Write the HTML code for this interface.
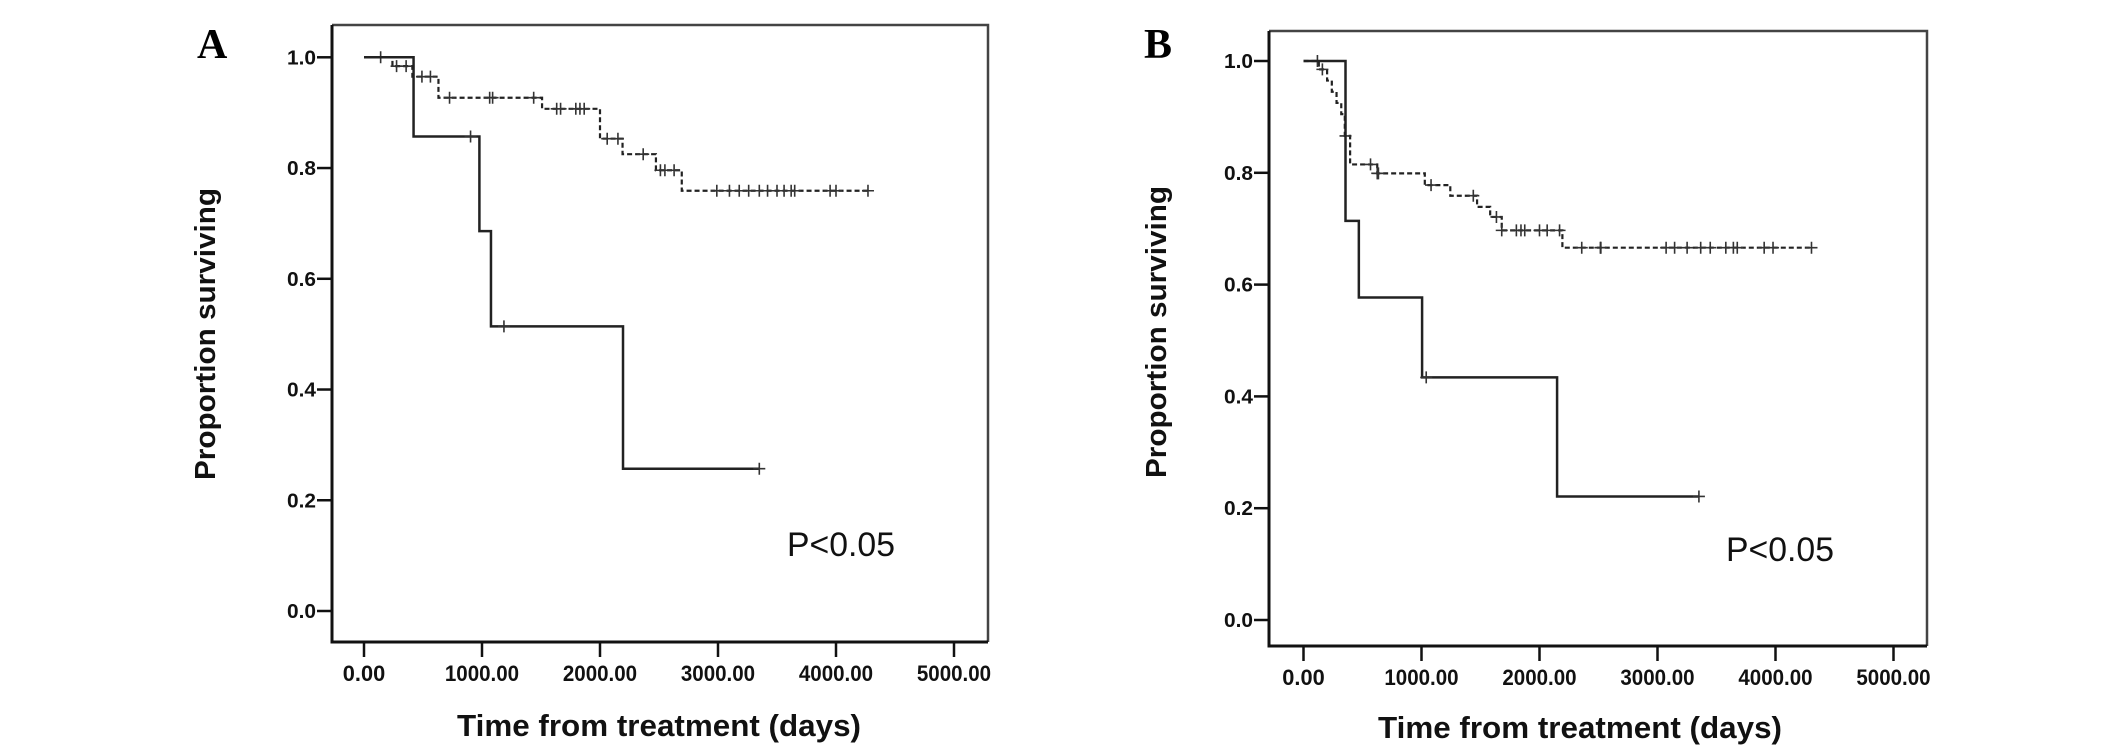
<!DOCTYPE html>
<html><head><meta charset="utf-8"><style>
html,body{margin:0;padding:0;background:#fff;}
svg{display:block;}
</style></head><body>
<svg id="fig" width="2126" height="754" viewBox="0 0 2126 754" xmlns="http://www.w3.org/2000/svg"></svg>
<script>
// Panel A data
const ticksX = [0, 1000, 2000, 3000, 4000, 5000];
const tickXLabels = ["0.00", "1000.00", "2000.00", "3000.00", "4000.00", "5000.00"];
const ticksY = [0, 0.2, 0.4, 0.6, 0.8, 1.0];
const tickYLabels = ["0.0", "0.2", "0.4", "0.6", "0.8", "1.0"];
const aSolidTimes = [420, 978, 1076, 2195];
const aSolidSurv = [0.857, 0.686, 0.514, 0.257];
const aSolidCensor = [903, 1186, 3350];
const aDashTimes = [241, 410, 631, 1509, 2000, 2191, 2474, 2693];
const aDashSurv = [0.984, 0.965, 0.927, 0.907, 0.853, 0.825, 0.796, 0.759];
const aDashCensor = [141, 276, 357, 491, 563, 725, 1065, 1090, 1438, 1633, 1666, 1795, 1830, 1866, 2061, 2152, 2366, 2512, 2550, 2628, 2990, 3097, 3180, 3260, 3350, 3420, 3500, 3560, 3620, 3650, 3950, 4000, 4271];
// Panel B data
const bSolidTimes = [356, 469, 1005, 2149];
const bSolidSurv = [0.714, 0.577, 0.434, 0.221];
const bSolidCensor = [1040, 3351];
const bDashTimes = [130, 200, 240, 280, 320, 350, 395, 625, 1028, 1244, 1471, 1582, 1680, 2194];
const bDashSurv = [0.985, 0.965, 0.945, 0.925, 0.905, 0.866, 0.815, 0.799, 0.778, 0.759, 0.739, 0.721, 0.697, 0.666];
const bDashCensor = [118, 160, 356, 568, 625, 635, 1081, 1439, 1635, 1680, 1804, 1843, 1875, 2000, 2065, 2170, 2358, 2516, 2520, 3073, 3145, 3251, 3366, 3447, 3579, 3643, 3676, 3904, 3979, 4305];

const NS = "http://www.w3.org/2000/svg";
const svg = document.getElementById("fig");
function mk(tag, attrs, parent) {
  const e = document.createElementNS(NS, tag);
  for (const k in attrs) e.setAttribute(k, attrs[k]);
  (parent || svg).appendChild(e);
  return e;
}

function panel(cfg) {
  const g = mk("g", {});
  
  
  const sx = t => cfg.x0 + t * cfg.kx;
  const sy = v => cfg.y0 - v * cfg.ky;
  // frame top/right
  const fr = mk("path", {d: `M${cfg.L} ${cfg.T} H${cfg.R} V${cfg.B}`, fill: "none", stroke: "#444", "stroke-width": 2.5}, g);
  
  
  const ax = mk("path", {d: `M${cfg.L} ${cfg.T} V${cfg.B} H${cfg.R}`, fill: "none", stroke: "#111", "stroke-width": 3}, g);
  
  
  // y ticks
  ticksY.forEach((v, i) => {
    const y = sy(v);
    const tk = mk("line", {x1: cfg.L - 15, x2: cfg.L, y1: y, y2: y, stroke: "#111", "stroke-width": 2.5}, g);
    
    
    const tx = mk("text", {x: cfg.L - 16, y: y + 7, "text-anchor": "end", "font-family": "Liberation Sans, sans-serif", "font-weight": "bold", "font-size": 20, fill: "#111", textLength: 29, lengthAdjust: "spacingAndGlyphs"}, g);
    tx.textContent = tickYLabels[i];
    
    
  });
  // x ticks
  ticksX.forEach((t, i) => {
    const x = sx(t);
    const tk = mk("line", {x1: x, x2: x, y1: cfg.B, y2: cfg.B + 15, stroke: "#111", "stroke-width": 2.5}, g);
    
    
    const w = tickXLabels[i].length * 10.6;
    const tx = mk("text", {x: x, y: cfg.B + 39, "text-anchor": "middle", "font-family": "Liberation Sans, sans-serif", "font-weight": "bold", "font-size": 22, fill: "#111", textLength: w, lengthAdjust: "spacingAndGlyphs"}, g);
    tx.textContent = tickXLabels[i];
    
    
  });
  // curves
  function curve(times, surv, censor, dashed, name) {
    let d = `M${sx(0)} ${sy(1)}`;
    times.forEach((t, i) => { d += ` H${sx(t)} V${sy(surv[i])}`; });
    const lastT = Math.max(censor[censor.length - 1], times[times.length - 1]);
    d += ` H${sx(lastT)}`;
    const p = mk("path", {d: d, fill: "none", stroke: dashed ? "#222" : "#222", "stroke-width": dashed ? 2.2 : 2.5, "stroke-dasharray": dashed ? "5,3" : "none"}, g);
    
    
    censor.forEach(t => {
      let s = 1;
      times.forEach((et, i) => { if (et <= t) s = surv[i]; });
      const x = sx(t), y = sy(s);
      const c = mk("path", {d: `M${x - 6} ${y} H${x + 6} M${x} ${y - 6} V${y + 6}`, stroke: "#333", "stroke-width": 1.6, fill: "none"}, g);
      
      
    });
  }
  curve(cfg.dashT, cfg.dashS, cfg.dashC, true, 'dashed-group-curve');
  curve(cfg.solT, cfg.solS, cfg.solC, false, 'solid-group-curve');
  // labels
  const lab = mk("text", {x: cfg.labX, y: 58, "font-family": "Liberation Serif, serif", "font-weight": "bold", "font-size": 42, fill: "#000"}, g);
  lab.textContent = cfg.id;
  
  
  const yt = mk("text", {x: 0, y: 0, transform: `translate(${cfg.ytX},${cfg.ytBot}) rotate(-90)`, "font-family": "Liberation Sans, sans-serif", "font-weight": "bold", "font-size": 29, fill: "#111", textLength: 292, lengthAdjust: "spacingAndGlyphs"}, g);
  yt.textContent = "Proportion surviving";
  
  
  const xt = mk("text", {x: cfg.xtX, y: cfg.xtY, "font-family": "Liberation Sans, sans-serif", "font-weight": "bold", "font-size": 31, fill: "#111", textLength: 404, lengthAdjust: "spacingAndGlyphs"}, g);
  xt.textContent = "Time from treatment (days)";
  
  
  const pv = mk("text", {x: cfg.pX, y: cfg.pY, "font-family": "Liberation Sans, sans-serif", "font-size": 34, fill: "#111", textLength: 108, lengthAdjust: "spacingAndGlyphs"}, g);
  pv.textContent = "P<0.05";
  
  
}

panel({id: "A", L: 332, T: 25, R: 988, B: 642, x0: 364, kx: 0.118, y0: 611, ky: 553.7,
  solT: aSolidTimes, solS: aSolidSurv, solC: aSolidCensor,
  dashT: aDashTimes, dashS: aDashSurv, dashC: aDashCensor,
  labX: 197, ytX: 215, ytBot: 480, xtX: 457, xtY: 736, pX: 787, pY: 556});
panel({id: "B", L: 1269, T: 31, R: 1927, B: 646, x0: 1303.5, kx: 0.118, y0: 620, ky: 559,
  solT: bSolidTimes, solS: bSolidSurv, solC: bSolidCensor,
  dashT: bDashTimes, dashS: bDashSurv, dashC: bDashCensor,
  labX: 1144, ytX: 1166, ytBot: 478, xtX: 1378, xtY: 738, pX: 1726, pY: 561});
</script>
</body></html>
